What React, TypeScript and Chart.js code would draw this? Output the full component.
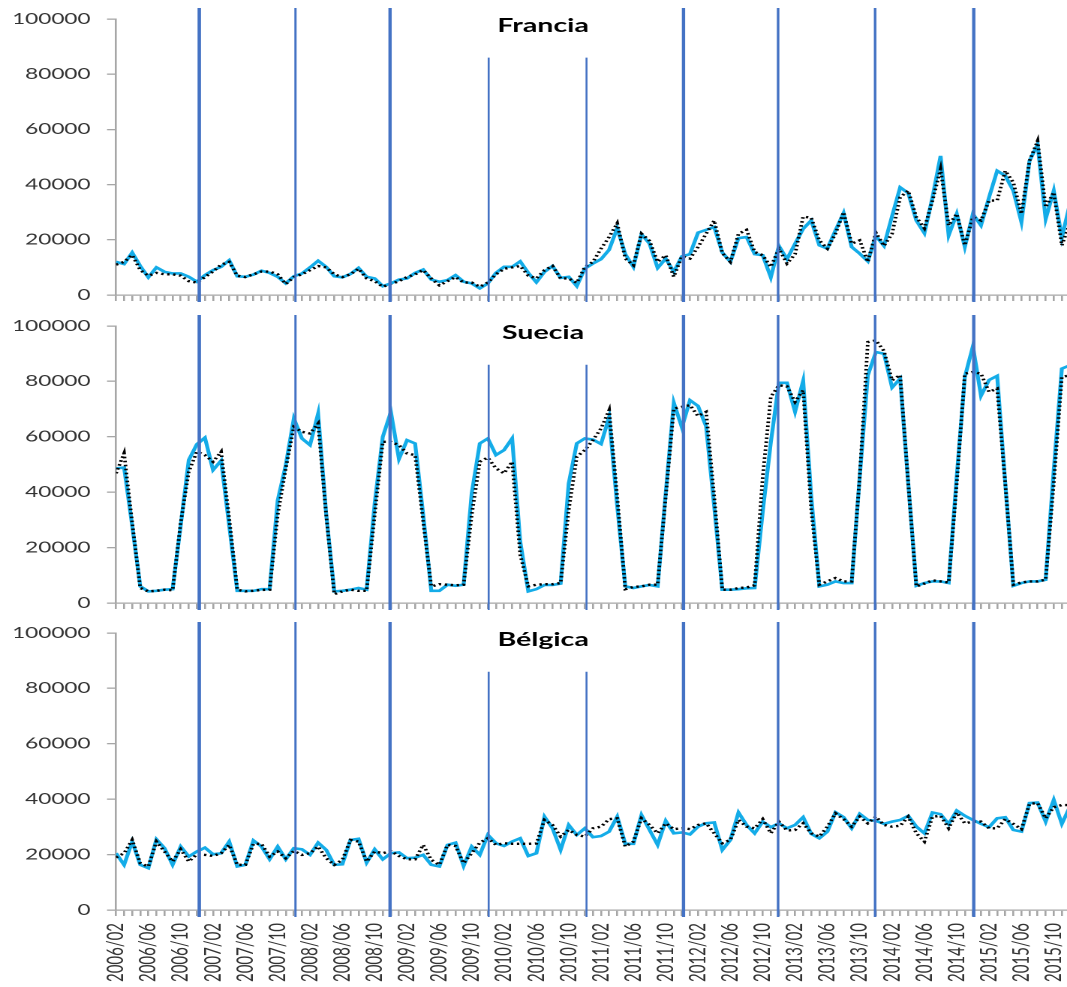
import React, { useEffect, useRef } from 'react';
import { Chart, registerables } from 'chart.js';

Chart.register(...registerables);

// ---------- categories ----------
const START_YEAR = 2006;
const START_MONTH = 2;
const MONTH_COUNT = 119;
const months: string[] = Array.from({ length: MONTH_COUNT }, (_, i) => {
  const m = START_MONTH - 1 + i;
  const y = START_YEAR + Math.floor(m / 12);
  const mm = (m % 12) + 1;
  return `${y}/${String(mm).padStart(2, '0')}`;
});
const LABEL_EVERY = 4;

// ---------- series ----------
const franciaBlue = [
  12000, 11200, 15400, 10500, 6400, 10000, 8400, 7800, 7800, 6600,
  4800, 7200, 9000, 10200, 12600, 6800, 6600, 7400, 8800, 8000,
  6600, 4200, 6800, 7800, 10000, 12400, 10200, 6800, 6400, 7600,
  9800, 6600, 6000, 3200, 4200, 5600, 6000, 8000, 9200, 5600,
  4800, 5400, 7200, 4800, 4200, 2400, 4200, 8000, 10200, 10200,
  12200, 8000, 4600, 8400, 10500, 6200, 6600, 3200, 9600, 11400,
  13000, 16400, 24200, 14800, 10200, 22000, 18600, 9800, 13200, 8400,
  14000, 14800, 22600, 23600, 24600, 15400, 12000, 20600, 21000, 14800,
  14400, 6400, 17800, 13000, 18600, 24000, 27000, 18000, 16800, 23400,
  29700, 17400, 15000, 12200, 21400, 17800, 28600, 39000, 36900, 27000,
  22400, 35400, 50400, 21600, 29400, 17400, 29400, 25200, 35400, 45000,
  43200, 37800, 26400, 48600, 54600, 27500, 37800, 20800, 33000,
];
const franciaDotted = [
  11000, 12000, 14500, 9000, 7000, 8000, 7500, 7500, 7000, 5000,
  4500, 6500, 8500, 11000, 12000, 7000, 6500, 7500, 8500, 8500,
  7500, 4000, 6500, 7500, 9000, 10500, 10000, 7500, 6500, 7500,
  9500, 6000, 5000, 3000, 4000, 5000, 6500, 7500, 9000, 6000,
  3500, 5000, 6500, 4500, 4500, 3000, 4500, 7500, 9500, 10000,
  10500, 7000, 6000, 9000, 10500, 6000, 6000, 4400, 10200, 12000,
  16800, 21000, 26000, 13200, 10800, 22200, 19600, 12000, 14400, 6600,
  14000, 13200, 17400, 22200, 27000, 15200, 12000, 22200, 23600, 15600,
  14400, 10200, 16800, 11400, 14800, 28400, 28000, 19800, 16800, 22200,
  30000, 18600, 19800, 12000, 22600, 17800, 22200, 35400, 37800, 28200,
  24200, 34200, 45600, 25200, 29400, 18000, 28200, 27000, 34200, 34200,
  45000, 40800, 29400, 48600, 55800, 31800, 37200, 18000, 26000,
];
const sueciaBlue = [
  48600, 48900, 28000, 6000, 4200, 4400, 4800, 5000, 28000, 51600,
  57300, 59700, 48000, 51400, 28000, 4400, 4400, 4400, 5000, 5000,
  37000, 49800, 66600, 59400, 57000, 68400, 32000, 4200, 4400, 4800,
  5400, 4800, 36000, 60000, 69000, 52000, 58800, 57600, 31800, 4400,
  4400, 6600, 6200, 6600, 39600, 57600, 59400, 53400, 55200, 59400,
  22200, 4200, 5000, 6500, 6500, 7000, 43200, 57600, 59400, 59000,
  57400, 67200, 35000, 6000, 5400, 6000, 6500, 6000, 39600, 72300,
  63400, 73200, 71100, 63700, 34800, 4800, 4800, 5000, 5300, 5400,
  33000, 58000, 79500, 79500, 69000, 80200, 38400, 6000, 6600, 7800,
  7200, 7200, 45600, 82200, 90600, 90000, 77800, 81000, 43200, 6200,
  7200, 7800, 7800, 7200, 45600, 81600, 92700, 74800, 80500, 82000,
  43200, 6200, 7200, 7800, 7800, 8400, 48000, 84600, 85800,
];
const sueciaDotted = [
  46800, 54000, 29000, 5400, 4200, 4400, 4800, 4600, 29000, 47400,
  54600, 53400, 51000, 54600, 30600, 4800, 4200, 4400, 4700, 4800,
  31800, 48600, 63600, 61800, 61200, 64800, 31800, 3200, 4200, 4800,
  4400, 4400, 31800, 58200, 58200, 57000, 54000, 53400, 29400, 6000,
  6800, 6600, 6400, 6600, 31800, 51000, 52500, 48600, 46800, 51000,
  17400, 6000, 6600, 6800, 6800, 7200, 33600, 52800, 55200, 58800,
  63000, 69600, 38400, 5000, 5800, 6000, 6600, 6600, 38400, 70200,
  70800, 71400, 67500, 69000, 38400, 4800, 4800, 5400, 5600, 6400,
  45600, 74400, 78600, 78200, 72600, 76800, 33600, 6600, 7800, 9000,
  7800, 7800, 45600, 94200, 94800, 91000, 80400, 82300, 43200, 6000,
  7000, 8200, 7800, 7400, 43200, 82800, 83400, 82800, 76200, 77400,
  43200, 6600, 7400, 7800, 7800, 8400, 43200, 81600, 82200,
];
const belgicaBlue = [
  20500, 16300, 24700, 16300, 15100, 25500, 22300, 16300, 22900, 19300,
  21100, 22500, 20100, 20500, 24700, 15700, 16300, 25100, 22900, 18300,
  22900, 18300, 22300, 21900, 19900, 24300, 21700, 16300, 16500, 25300,
  25700, 17100, 21900, 18300, 20500, 20800, 18700, 18900, 19900, 16300,
  15700, 23500, 24300, 15900, 22900, 19900, 27100, 24100, 23100, 24700,
  25900, 19500, 20500, 33700, 29500, 21700, 30700, 27100, 29500, 26300,
  26700, 28300, 33700, 23900, 23900, 34300, 28900, 23500, 32200, 27700,
  28000, 27300, 30100, 31300, 31600, 21700, 25300, 35200, 30700, 27700,
  31900, 29900, 31300, 29500, 30700, 33500, 27500, 25900, 28300, 35300,
  33500, 29500, 34700, 32500, 32200, 31100, 31900, 32500, 34000, 30100,
  27700, 35200, 34600, 31000, 35900, 34000, 32500, 31100, 29900, 33100,
  33500, 28900, 28300, 38600, 38800, 31900, 39800, 31100, 37300,
];
const belgicaDotted = [
  19000, 20500, 25300, 16900, 15700, 24700, 21100, 17500, 21900, 17500,
  20100, 19900, 19500, 20500, 23500, 16300, 16300, 23900, 23900, 19300,
  21100, 18700, 21300, 19900, 20500, 22900, 18700, 16300, 18100, 25300,
  24700, 17500, 21100, 20500, 21300, 19500, 18300, 18300, 23500, 18100,
  16300, 23500, 23100, 16900, 20500, 24300, 25900, 23500, 24100, 23900,
  23900, 23900, 24000, 32500, 30700, 26500, 28900, 27100, 26500, 29500,
  30100, 32800, 33100, 22900, 24700, 33100, 30700, 27700, 31300, 29200,
  29500, 29200, 30700, 31300, 27700, 24100, 25300, 32500, 30100, 29500,
  32800, 27700, 31900, 28700, 28900, 31300, 27700, 26500, 30100, 34900,
  32800, 30100, 33700, 31300, 33700, 30700, 30100, 30400, 33700, 27700,
  24700, 33700, 34000, 29500, 35200, 31300, 31900, 31900, 29500, 29500,
  32800, 31100, 29200, 38300, 38600, 33100, 37100, 37900, 37900,
];

// ---------- axes / annotations ----------
const Y_MIN = 0;
const Y_MAX = 100000;
const Y_STEP = 20000;
const X_VISIBLE_MAX = 117.64; // the picture is cut just after 2015/11
// vertical year-separator lines (position in months since 2006/02)
const yearLinePositions = [10.3, 22.2, 33.9, 46.1, 58.2, 70.2, 81.9, 93.9, 106.1];
const yearLineShort = [false, false, false, true, true, false, false, false, false];
const yearLineWidths = [2.3, 1.5, 2.2, 1.3, 1.3, 2.2, 1.7, 1.7, 2.2];
const SHORT_LINE_TOP_VALUE = 86000;

// ---------- layout constants ----------
const LOGICAL_W = 711;
const FINAL_W = 1067;
const FONT = 'Lato';

const yearLinesPlugin = {
  id: 'yearLines',
  afterDatasetsDraw(chart: any) {
    const { ctx, chartArea, scales } = chart;
    yearLinePositions.forEach((pos, k) => {
      const x = scales.x.getPixelForValue(pos);
      const top = yearLineShort[k]
        ? scales.y.getPixelForValue(SHORT_LINE_TOP_VALUE)
        : chartArea.top - 11;
      ctx.save();
      ctx.strokeStyle = '#4472C4';
      ctx.lineWidth = yearLineWidths[k];
      ctx.beginPath();
      ctx.moveTo(x, top);
      ctx.lineTo(x, chartArea.bottom + 7);
      ctx.stroke();
      ctx.restore();
    });
  },
};

function makeTitlePlugin(text: string) {
  return {
    id: 'panelTitle',
    afterDraw(chart: any) {
      const { ctx, chartArea } = chart;
      ctx.save();
      ctx.font = `bold 19px ${FONT}`;
      ctx.fillStyle = '#000';
      ctx.textAlign = 'center';
      ctx.textBaseline = 'middle';
      ctx.fillText(text, chart.width * 0.509, chartArea.top + 7);
      ctx.restore();
    },
  };
}

type PanelProps = {
  title: string;
  blue: number[];
  dotted: number[];
  showLabels: boolean;
  top: number;
  height: number;
  plotBottom: number;
};

function Panel({ title, blue, dotted, showLabels, top, height, plotBottom }: PanelProps) {
  const ref = useRef<HTMLCanvasElement>(null);
  useEffect(() => {
    const canvas = ref.current;
    if (!canvas) return;
    const axisColor = '#A6A6A6';
    const chart = new Chart(canvas, {
      type: 'line',
      data: {
        datasets: [
          {
            data: dotted.map((y, i) => ({ x: i, y })),
            borderColor: '#000000',
            borderWidth: 2.4,
            borderDash: [1.6, 2.4],
            pointRadius: 0,
            tension: 0,
            fill: false,
          },
          {
            data: blue.map((y, i) => ({ x: i, y })),
            borderColor: '#14ACE8',
            borderWidth: 2.6,
            pointRadius: 0,
            tension: 0,
            fill: false,
          },
        ],
      },
      options: {
        responsive: false,
        animation: false,
        devicePixelRatio: 2,
        events: [],
        layout: { padding: { top: 19, left: 0, right: 0, bottom: 0 } },
        plugins: {
          legend: { display: false },
          title: { display: false },
          tooltip: { enabled: false },
        },
        scales: {
          x: {
            type: 'linear',
            bounds: 'data',
            min: 0,
            max: X_VISIBLE_MAX,
            afterBuildTicks: (s: any) => {
              s.ticks = months
                .map((_, i) => ({ value: i }))
                .filter((t) => t.value <= X_VISIBLE_MAX);
            },
            ticks: {
              display: showLabels,
              autoSkip: false,
              minRotation: 90,
              maxRotation: 90,
              padding: 7,
              color: '#333333',
              font: { family: FONT, size: 15 },
              callback: (v: any) =>
                Number.isInteger(v) && v % LABEL_EVERY === 0 ? months[v] : '',
            },
            grid: {
              drawOnChartArea: false,
              drawTicks: true,
              tickLength: 6,
              color: axisColor,
              lineWidth: 1.3,
            },
            border: { display: true, color: axisColor, width: 1.3 },
            afterFit: (s: any) => {
              s.height = height - plotBottom;
              s.paddingLeft = 0;
              s.paddingRight = 0;
            },
          },
          y: {
            min: Y_MIN,
            max: Y_MAX,
            ticks: {
              stepSize: Y_STEP,
              padding: 11,
              color: '#333333',
              font: { family: FONT, size: 15 },
              callback: (v: any) => `${v}`,
            },
            grid: {
              drawOnChartArea: false,
              drawTicks: true,
              tickLength: 6,
              color: axisColor,
              lineWidth: 1.3,
            },
            border: { display: true, color: axisColor, width: 1.3 },
            afterFit: (s: any) => {
              s.width = 77.3;
              s.paddingTop = 0;
              s.paddingBottom = 0;
            },
          },
        },
      } as any,
      plugins: [yearLinesPlugin, makeTitlePlugin(title)],
    });
    return () => chart.destroy();
  }, []);
  return (
    <canvas
      ref={ref}
      width={LOGICAL_W}
      height={height}
      style={{
        position: 'absolute',
        left: 0,
        top,
        width: `${FINAL_W}px`,
        height: `${height}px`,
      }}
    />
  );
}

export default function App() {
  return (
    <div
      style={{
        position: 'absolute',
        left: 0,
        top: 0,
        width: FINAL_W,
        height: 987,
        background: '#ffffff',
        overflow: 'hidden',
      }}
    >
      <Panel title="Francia" blue={franciaBlue} dotted={franciaDotted} showLabels={false} top={0} height={307} plotBottom={295} />
      <Panel title="Suecia" blue={sueciaBlue} dotted={sueciaDotted} showLabels={false} top={307} height={307} plotBottom={296} />
      <Panel title="Bélgica" blue={belgicaBlue} dotted={belgicaDotted} showLabels={true} top={614} height={373} plotBottom={296} />
    </div>
  );
}
